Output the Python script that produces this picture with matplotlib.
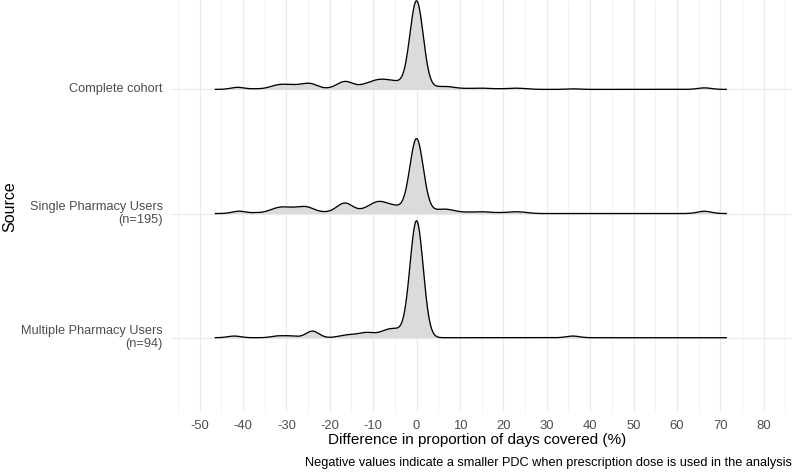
import numpy as np
import matplotlib
matplotlib.use("Agg")
import matplotlib.pyplot as plt

# ---- data: observed PDC differences (value -> number of patients) ----
groups = ["Multiple Pharmacy Users\n(n=94)", "Single Pharmacy Users\n(n=195)", "Complete cohort"]

multiple_values = [-42, -32, -29, -24, -17, -15, -13, -12, -11, -10, -8, -7, -6, -5, -4,
                   -1, 0, 1, 36]
multiple_counts = [1, 1, 1, 4, 1, 1, 1, 1, 1, 1, 1, 2, 1, 2, 2,
                   3, 66, 3, 1]

single_values = [-41, -37, -34, -33, -32, -31, -30, -29, -28, -27, -26, -25, -24, -22, -20,
                 -18, -17, -16, -15, -13, -12, -11, -10, -9, -8, -7, -6, -5, -4, -3,
                 -1, 0, 1, 3, 4, 5, 6, 7, 8, 9, 11, 13, 15, 16, 19, 22, 23, 25, 66, 67]
single_counts = [3, 1, 1, 2, 2, 3, 2, 2, 2, 2, 3, 3, 2, 1, 1,
                 3, 5, 5, 3, 1, 2, 2, 4, 5, 5, 3, 3, 3, 3, 1,
                 8, 81, 8, 1, 1, 1, 2, 2, 1, 1, 1, 1, 1, 1, 1, 1, 1, 1, 2, 1]

bandwidth = 1.5  # joint bandwidth
x_breaks = list(range(-50, 81, 10))
x_title = "Difference in proportion of days covered (%)"
y_title = "Source"
caption = "Negative values indicate a smaller PDC when prescription dose is used in the analysis"

# ---- build samples ----
mult = np.repeat(multiple_values, multiple_counts).astype(float)
sing = np.repeat(single_values, single_counts).astype(float)
comp = np.concatenate([sing, mult])
samples = [mult, sing, comp]

lo = comp.min() - 3 * bandwidth
hi = comp.max() + 3 * bandwidth
xs = np.linspace(lo, hi, 1024)


def kde(s):
    z = (xs[:, None] - s[None, :]) / bandwidth
    return np.exp(-0.5 * z ** 2).sum(axis=1) / (len(s) * bandwidth * np.sqrt(2 * np.pi))


dens = [kde(s) for s in samples]
scale = 0.942 / max(d.max() for d in dens)

plt.rcParams["font.family"] = ["Liberation Sans", "DejaVu Sans"]

fig = plt.figure(figsize=(7.96, 4.73), dpi=100)
ax = fig.add_axes([171.3 / 796, 1 - 412.2 / 473, (792 - 171.3) / 796, 412.2 / 473])
ax.set_xlim(-56.5, 86.5)
ax.set_ylim(0.4, 3.72)

grid_c = "#EBEBEB"
for xv in np.arange(-55, 86, 5):
    major = (xv % 10 == 0)
    ax.axvline(xv, color=grid_c, lw=0.9 if major else 0.45, zorder=0)
for yv in (1, 2, 3):
    ax.axhline(yv, color=grid_c, lw=0.9, zorder=0)

# draw from the top ridge to the bottom so lower ridges sit in front
for k in (2, 1, 0):
    base = k + 1
    top = base + dens[k] * scale
    ax.fill_between(xs, base, top, color="#DBDBDB", lw=0, zorder=2 + 2 * (2 - k))
    ax.plot(xs, top, color="black", lw=0.95, zorder=3 + 2 * (2 - k), solid_capstyle="butt")

for s in ax.spines.values():
    s.set_visible(False)
ax.tick_params(length=0)
ax.set_xticks(x_breaks)
ax.set_xticklabels([str(v) for v in x_breaks], fontsize=9.4, color="#4D4D4D")
ax.tick_params(axis="x", pad=5.5)
ax.set_yticks([1, 2, 3])
ax.set_yticklabels(groups, fontsize=9.2, color="#4D4D4D", linespacing=1.05,
                   ha="right", va="center")
ax.tick_params(axis="y", pad=6)

fig.text(477 / 796, 1 - 440 / 473, x_title, fontsize=11,
         ha="center", va="center", color="black")
fig.text(10 / 796, 1 - 207 / 473, y_title, fontsize=11.5, rotation=90,
         ha="center", va="center", color="black")
fig.text(792 / 796, 1 - 463 / 473, caption, fontsize=9.2, ha="right", va="center",
         color="black")

fig.savefig("out.png", dpi=100)
